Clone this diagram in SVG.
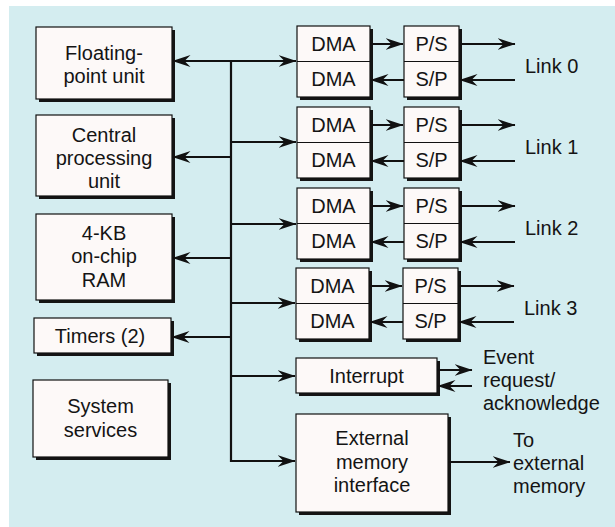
<svg xmlns="http://www.w3.org/2000/svg" width="615" height="527" viewBox="0 0 615 527">
  <defs>
    <marker id="head" viewBox="0 0 18 13" refX="17.5" refY="6.5" markerWidth="18" markerHeight="13" markerUnits="userSpaceOnUse" orient="auto-start-reverse">
      <path d="M0,0.5 L18,6.5 L0,12.5 L6,6.5 Z" fill="#111"/>
    </marker>
    <style>
      .box { fill: #fdf9f8; stroke: #111; stroke-width: 1.2; }
      .shadow { fill: #141414; }
      .lbl { font-family: "Liberation Sans", Arial, sans-serif; font-size: 20px; fill: #141414; text-anchor: middle; }
      .side { font-family: "Liberation Sans", Arial, sans-serif; font-size: 20px; fill: #141414; }
      .wire { stroke: #111; stroke-width: 2.2; fill: none; }
      .arr { stroke: #111; stroke-width: 2.2; fill: none; marker-end: url(#head); }
      .arr2 { stroke: #111; stroke-width: 2.2; fill: none; marker-start: url(#head); marker-end: url(#head); }
      .div { stroke: #111; stroke-width: 1; }
    </style>
  </defs>

  <!-- background panel -->
  <rect x="0" y="0" width="615" height="527" fill="#ffffff"/>
  <rect x="9" y="6" width="606" height="521" fill="#d4edf0"/>

  <!-- left column blocks -->
  <g id="fpu">
    <rect class="shadow" x="39" y="30" width="136" height="72"/>
    <rect class="box" x="36" y="27" width="136" height="72"/>
    <text class="lbl" x="104" y="60">Floating-</text>
    <text class="lbl" x="104" y="83">point unit</text>
  </g>
  <g id="cpu">
    <rect class="shadow" x="39" y="118" width="136" height="81"/>
    <rect class="box" x="36" y="115" width="136" height="81"/>
    <text class="lbl" x="104" y="142">Central</text>
    <text class="lbl" x="104" y="165">processing</text>
    <text class="lbl" x="104" y="188">unit</text>
  </g>
  <g id="ram">
    <rect class="shadow" x="39" y="217" width="136" height="86"/>
    <rect class="box" x="36" y="214" width="136" height="86"/>
    <text class="lbl" x="104" y="240">4-KB</text>
    <text class="lbl" x="104" y="263">on-chip</text>
    <text class="lbl" x="104" y="287">RAM</text>
  </g>
  <g id="timers">
    <rect class="shadow" x="37" y="321" width="137" height="35"/>
    <rect class="box" x="34" y="318" width="137" height="35"/>
    <text class="lbl" x="100" y="343">Timers (2)</text>
  </g>
  <g id="sysserv">
    <rect class="shadow" x="36" y="383" width="135" height="77"/>
    <rect class="box" x="33" y="380" width="135" height="77"/>
    <text class="lbl" x="100.5" y="413">System</text>
    <text class="lbl" x="100.5" y="437">services</text>
  </g>

  <!-- link engines: DMA pair + P/S, S/P converters -->
  <g id="link0">
    <rect class="shadow" x="300" y="29" width="73" height="71"/>
    <rect class="box" x="297" y="26" width="73" height="71"/>
    <line class="div" x1="297" y1="61.5" x2="370" y2="61.5"/>
    <text class="lbl" x="333.5" y="51">DMA</text>
    <text class="lbl" x="333.5" y="86">DMA</text>
    <rect class="shadow" x="407" y="29" width="55" height="71"/>
    <rect class="box" x="404" y="26" width="55" height="71"/>
    <line class="div" x1="404" y1="61.5" x2="459" y2="61.5"/>
    <text class="lbl" x="431.5" y="51">P/S</text>
    <text class="lbl" x="431.5" y="86">S/P</text>
    <text class="side" x="525" y="73">Link 0</text>
  </g>
  <g id="link1">
    <rect class="shadow" x="300" y="110" width="73" height="71"/>
    <rect class="box" x="297" y="107" width="73" height="71"/>
    <line class="div" x1="297" y1="142.5" x2="370" y2="142.5"/>
    <text class="lbl" x="333.5" y="132">DMA</text>
    <text class="lbl" x="333.5" y="167">DMA</text>
    <rect class="shadow" x="407" y="110" width="55" height="71"/>
    <rect class="box" x="404" y="107" width="55" height="71"/>
    <line class="div" x1="404" y1="142.5" x2="459" y2="142.5"/>
    <text class="lbl" x="431.5" y="132">P/S</text>
    <text class="lbl" x="431.5" y="167">S/P</text>
    <text class="side" x="525" y="154">Link 1</text>
  </g>
  <g id="link2">
    <rect class="shadow" x="300" y="191" width="73" height="71"/>
    <rect class="box" x="297" y="188" width="73" height="71"/>
    <line class="div" x1="297" y1="223.5" x2="370" y2="223.5"/>
    <text class="lbl" x="333.5" y="213">DMA</text>
    <text class="lbl" x="333.5" y="248">DMA</text>
    <rect class="shadow" x="407" y="191" width="55" height="71"/>
    <rect class="box" x="404" y="188" width="55" height="71"/>
    <line class="div" x1="404" y1="223.5" x2="459" y2="223.5"/>
    <text class="lbl" x="431.5" y="213">P/S</text>
    <text class="lbl" x="431.5" y="248">S/P</text>
    <text class="side" x="525" y="235">Link 2</text>
  </g>
  <g id="link3">
    <rect class="shadow" x="299" y="271" width="73" height="71"/>
    <rect class="box" x="296" y="268" width="73" height="71"/>
    <line class="div" x1="296" y1="303.5" x2="369" y2="303.5"/>
    <text class="lbl" x="332.5" y="293">DMA</text>
    <text class="lbl" x="332.5" y="328">DMA</text>
    <rect class="shadow" x="406" y="271" width="55" height="71"/>
    <rect class="box" x="403" y="268" width="55" height="71"/>
    <line class="div" x1="403" y1="303.5" x2="458" y2="303.5"/>
    <text class="lbl" x="430.5" y="293">P/S</text>
    <text class="lbl" x="430.5" y="328">S/P</text>
    <text class="side" x="524" y="315">Link 3</text>
  </g>

  <g id="interrupt">
    <rect class="shadow" x="299" y="361" width="141" height="35"/>
    <rect class="box" x="296" y="358" width="141" height="35"/>
    <text class="lbl" x="366.5" y="383">Interrupt</text>
    <text class="side" x="483" y="364">Event</text>
    <text class="side" x="483" y="387">request/</text>
    <text class="side" x="483" y="410">acknowledge</text>
  </g>

  <g id="extmem">
    <rect class="shadow" x="299" y="417" width="152" height="98"/>
    <rect class="box" x="296" y="414" width="152" height="98"/>
    <text class="lbl" x="372" y="445">External</text>
    <text class="lbl" x="372" y="469">memory</text>
    <text class="lbl" x="372" y="492">interface</text>
    <text class="side" x="513" y="447">To</text>
    <text class="side" x="513" y="470">external</text>
    <text class="side" x="513" y="493">memory</text>
  </g>

  <!-- internal bus and all connectors -->
  <g id="connectors">
    <line class="wire" x1="231" y1="61" x2="231" y2="462"/>
    <line class="arr2" x1="173" y1="61" x2="296" y2="61"/>
    <line class="arr" x1="231" y1="157" x2="173" y2="157"/>
    <line class="arr" x1="231" y1="142" x2="296" y2="142"/>
    <line class="arr" x1="231" y1="224" x2="296" y2="224"/>
    <line class="arr" x1="231" y1="258" x2="173" y2="258"/>
    <line class="arr" x1="231" y1="303" x2="295" y2="303"/>
    <line class="arr" x1="231" y1="337" x2="172" y2="337"/>
    <line class="arr" x1="231" y1="376" x2="295" y2="376"/>
    <line class="arr" x1="230" y1="461" x2="295" y2="461"/>

    <!-- link 0 -->
    <line class="arr" x1="370" y1="44" x2="403" y2="44"/>
    <line class="arr" x1="404" y1="80" x2="371" y2="80"/>
    <line class="arr" x1="460" y1="44" x2="515" y2="44"/>
    <line class="arr" x1="515" y1="80" x2="460" y2="80"/>
    <!-- link 1 -->
    <line class="arr" x1="370" y1="125" x2="403" y2="125"/>
    <line class="arr" x1="404" y1="161" x2="371" y2="161"/>
    <line class="arr" x1="460" y1="125" x2="515" y2="125"/>
    <line class="arr" x1="515" y1="161" x2="460" y2="161"/>
    <!-- link 2 -->
    <line class="arr" x1="370" y1="206" x2="403" y2="206"/>
    <line class="arr" x1="404" y1="242" x2="371" y2="242"/>
    <line class="arr" x1="460" y1="206" x2="515" y2="206"/>
    <line class="arr" x1="515" y1="242" x2="460" y2="242"/>
    <!-- link 3 -->
    <line class="arr" x1="369" y1="286" x2="402" y2="286"/>
    <line class="arr" x1="403" y1="322" x2="370" y2="322"/>
    <line class="arr" x1="459" y1="286" x2="514" y2="286"/>
    <line class="arr" x1="514" y1="322" x2="459" y2="322"/>

    <!-- event request / acknowledge -->
    <line class="arr" x1="437" y1="370" x2="472" y2="370"/>
    <line class="arr" x1="472" y1="386" x2="438" y2="386"/>
    <!-- to external memory -->
    <line class="arr" x1="448" y1="462" x2="510" y2="462"/>
  </g>
</svg>
